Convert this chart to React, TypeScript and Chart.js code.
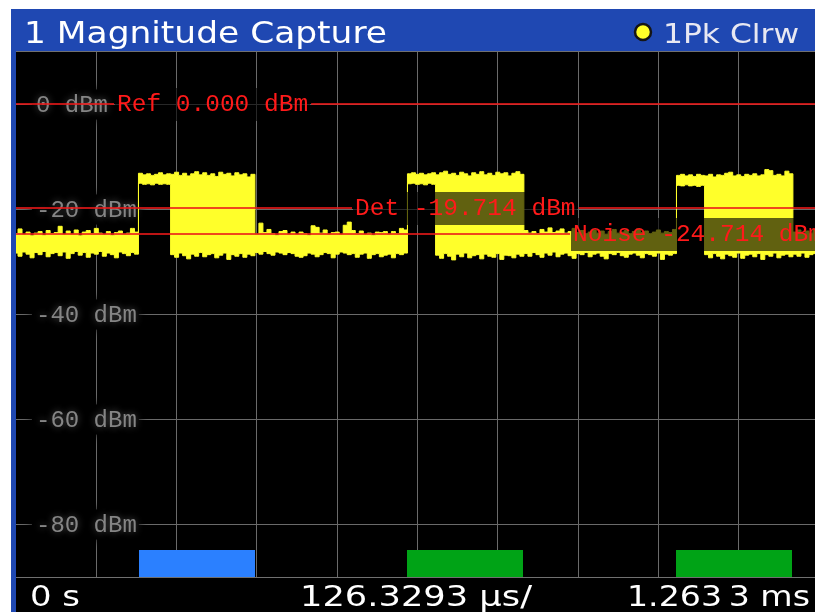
import React, { useEffect, useRef } from "react";
import { Chart, registerables } from "chart.js";

Chart.register(...registerables);

// ---------------- data ----------------
const TITLE = "1 Magnitude Capture";
const TRACE_NAME = "1Pk Clrw";
const X_START_LABEL = "0 s";
const X_DIV_LABEL = "126.3293 µs/";
const X_STOP_LABEL = "1.263\u20093 ms";

const X_MIN_US = 0;
const X_MAX_US = 1263.293;
const X_GRID_US = [126.329, 252.659, 378.988, 505.317, 631.647, 757.976, 884.305, 1010.634, 1136.964];

const Y_MIN_DBM = -90;
const Y_MAX_DBM = 10;
const Y_GRID_DBM = [0, -20, -40, -60, -80];
const Y_TICK_LABELS = ["0 dBm", "-20 dBm", "-40 dBm", "-60 dBm", "-80 dBm"];

const REF_LEVEL_DBM = 0;
const DET_THRESHOLD_DBM = -19.714;
const NOISE_THRESHOLD_DBM = -24.714;

const BURST_START_US = [193.5, 615.1, 1038.3];
const BURST_STOP_US = [376.0, 797.6, 1220.8];
const SELECTED_BURST = 0;

// peak (max) and min envelope of the trace, one value per sample
const SAMPLE_STEP_US = 6.3165;
const TRACE_MAX_DBM = [
  // noise
  -24.6, -23.7, -24.8, -24.3, -25.0, -24.5, -24.2, -24.9, -24.0, -24.6, -24.4, -23.2, -24.8, -24.1, -24.7, -23.9,
  -25.0, -24.3, -24.0, -24.6, -23.6, -24.5, -24.8, -24.2, -24.9, -24.4, -24.1, -24.7, -24.5, -23.6, -24.3,
  // burst 1
  -13.1, -13.4, -13.2, -13.5, -13.3, -13.0, -13.4, -13.2,
  -13.3, -12.9, -13.5, -13.1, -13.6, -13.2, -12.8, -13.4, -13.0, -13.5, -13.2, -13.7, -12.9, -13.3, -13.1, -13.6,
  -13.0, -13.4, -13.2, -13.8, -13.3,
  // noise
  -24.7, -22.6, -24.4, -23.8, -24.6, -24.9, -24.2, -24.0, -24.7, -24.3, -24.8, -24.3, -24.6, -24.9, -23.1, -23.4,
  -24.5, -23.9, -24.7, -24.4, -24.3, -24.8, -23.0, -22.4, -24.0, -24.6, -24.1, -24.8, -24.5, -24.9, -24.3, -24.4,
  -24.2, -24.7, -24.2, -24.6, -23.6, -23.9,
  // burst 2
  -13.2, -13.0, -13.3, -13.1, -13.4, -13.2, -13.0,
  -13.4, -13.0, -12.7, -13.3, -13.1, -13.5, -12.9, -13.2, -13.6, -13.0, -13.3, -12.8, -13.4, -13.1, -13.5, -12.9,
  -13.2, -13.0, -13.6, -13.1, -12.8, -13.3,
  // noise
  -24.0, -24.5, -24.2, -24.6, -23.8, -24.3, -23.5, -24.4, -24.1, -23.7, -24.5, -24.2, -23.6, -24.4, -24.0, -24.6,
  -24.3, -23.9, -24.5, -24.1, -24.7, -24.2, -23.8, -24.5, -24.3, -24.0, -24.6, -24.2, -23.7, -24.4, -24.1, -24.6,
  -24.3, -23.9, -24.5, -24.2, -24.4, -23.8,
  // burst 3
  -13.5, -13.3, -13.6, -13.4, -13.7, -13.3, -13.5,
  -13.6, -13.3, -13.8, -13.4, -13.5, -13.1, -12.9, -13.6, -13.4, -13.7, -13.3, -13.5, -13.2, -13.6, -13.4, -12.4,
  -12.6, -13.5, -13.3, -13.6, -12.7, -13.2,
  // noise
  -24.3, -23.9, -24.6, -24.1, -24.5, -23.8, -24.4,
];
const TRACE_MIN_DBM = [
  // noise
  -28.3, -28.9, -28.1, -28.5, -29.2, -28.2, -28.6, -28.0, -29.0, -28.4, -28.2, -28.8, -28.1, -29.3, -28.4, -28.0,
  -28.7, -28.2, -29.1, -28.3, -28.5, -28.0, -28.9, -28.3, -28.6, -29.2, -28.1, -28.4, -28.8, -28.2, -28.5,
  // burst 1
  -15.0, -15.2, -15.1, -15.3, -15.0, -15.2, -15.1, -15.2,
  -28.6, -29.1, -28.3, -28.8, -29.4, -28.5, -28.9, -28.2, -29.0, -28.6, -28.4, -29.2, -28.7, -28.3, -29.5, -28.6,
  -28.9, -28.4, -29.1, -28.5, -28.8,
  // noise
  -28.2, -28.5, -28.0, -28.4, -28.7, -28.1, -28.3, -28.6, -28.2, -28.4, -28.9, -29.1, -28.8, -28.3, -28.5, -29.0,
  -28.6, -28.2, -28.4, -29.2, -28.5, -28.1, -28.3, -28.6, -28.4, -29.1, -28.5, -28.3, -29.3, -28.6, -28.4, -29.0,
  -28.7, -28.5, -29.2, -28.4, -28.6, -28.3,
  // burst 2
  -15.1, -15.0, -15.2, -15.1, -15.3, -15.0, -15.2,
  -28.7, -29.3, -28.4, -28.9, -29.6, -28.5, -29.0, -28.3, -29.2, -28.8, -28.6, -29.4, -28.5, -28.9, -29.1, -28.4,
  -29.5, -28.7, -28.8, -29.2, -28.5, -28.9,
  // noise
  -28.4, -28.9, -28.2, -28.6, -29.1, -28.3, -28.7, -28.1, -29.0, -28.5, -28.3, -28.8, -29.3, -28.4, -28.6, -28.2,
  -29.0, -28.5, -28.3, -28.9, -29.4, -28.4, -28.6, -28.2, -28.8, -29.1, -28.5, -28.3, -28.7, -29.2, -28.4, -28.6,
  -28.9, -28.3, -29.5, -28.5, -28.7, -28.4,
  // burst 3
  -15.4, -15.5, -15.3, -15.5, -15.4, -15.6, -15.4,
  -28.6, -29.2, -28.4, -28.9, -29.4, -28.5, -28.8, -29.1, -28.3, -29.3, -28.7, -28.5, -29.0, -28.4, -29.5, -28.6,
  -28.9, -28.3, -29.2, -28.7, -28.5, -29.0,
  // noise
  -28.5, -28.9, -28.3, -29.1, -28.6, -28.4, -28.8,
];

// ---------------- styles ----------------
const PANEL_BLUE = "#1f48b2";
const GRID_COLOR = "#6a6a6a";
const TRACE_COLOR = "#ffff2a";
const MARKER_LINE = "rgba(235,25,25,0.8)";
const MARKER_TEXT = "#ff1a1a";
const SELECTED_BAR = "#2b80ff";
const OTHER_BAR = "#00a316";

function fitText(ctx: CanvasRenderingContext2D, text: string, x: number, baseline: number, width: number, font: string, color: string) {
  ctx.save();
  ctx.font = font;
  ctx.textAlign = "left";
  ctx.textBaseline = "alphabetic";
  const w = ctx.measureText(text).width;
  ctx.translate(x, baseline);
  ctx.scale(width / w, 1);
  ctx.fillStyle = color;
  ctx.fillText(text, 0, 0);
  ctx.restore();
}

function drawMarker(chart: any, value: number, text: string, offset: number) {
  const { ctx, chartArea, scales } = chart;
  const py = Math.round(scales.y.getPixelForValue(value));
  ctx.save();
  ctx.font = '24.5px "Liberation Mono", monospace';
  const w = ctx.measureText(text).width;
  const x0 = chartArea.left + offset;
  ctx.fillStyle = "rgba(0,0,0,0.62)";
  ctx.fillRect(x0 - 2, py - 16, w + 4, 33);
  ctx.strokeStyle = MARKER_LINE;
  ctx.lineWidth = 2;
  ctx.beginPath();
  ctx.moveTo(chartArea.left, py);
  ctx.lineTo(x0 - 3, py);
  ctx.moveTo(x0 + w + 3, py);
  ctx.lineTo(chartArea.right, py);
  ctx.stroke();
  ctx.fillStyle = MARKER_TEXT;
  ctx.textBaseline = "middle";
  ctx.fillText(text, x0, py + 1);
  ctx.restore();
}

const panelPlugin = {
  id: "panel",
  beforeDraw(chart: any) {
    const { ctx, width, height } = chart;
    ctx.save();
    ctx.fillStyle = "#ffffff";
    ctx.fillRect(0, 0, width, height);
    ctx.fillStyle = PANEL_BLUE;
    ctx.fillRect(11, 9, width - 11, height - 9);
    ctx.fillStyle = "#000000";
    ctx.fillRect(16, 51, width - 16, height - 51);
    ctx.fillStyle = "#707070";
    ctx.fillRect(16, 51, width - 16, 1);
    ctx.restore();
  },
  beforeDatasetsDraw(chart: any) {
    const { ctx, chartArea, scales } = chart;
    ctx.save();
    ctx.font = '24px "Liberation Mono", monospace';
    ctx.textBaseline = "middle";
    Y_GRID_DBM.forEach((v, i) => {
      const py = scales.y.getPixelForValue(v);
      const px = chartArea.left + 20;
      const label = Y_TICK_LABELS[i];
      const w = ctx.measureText(label).width;
      ctx.shadowColor = "#000";
      ctx.shadowBlur = 10;
      ctx.fillStyle = "#000";
      ctx.fillRect(px - 4, py - 15, w + 6, 30);
      ctx.shadowColor = "rgba(150,150,150,0.55)";
      ctx.shadowBlur = 7;
      ctx.fillStyle = "#858585";
      ctx.fillText(label, px, py + 1);
    });
    ctx.restore();
  },
  afterDatasetsDraw(chart: any) {
    const { ctx, chartArea, scales, width } = chart;
    drawMarker(chart, REF_LEVEL_DBM, `Ref ${REF_LEVEL_DBM.toFixed(3)} dBm`, 101);
    drawMarker(chart, DET_THRESHOLD_DBM, `Det ${DET_THRESHOLD_DBM.toFixed(3)} dBm`, 339);
    drawMarker(chart, NOISE_THRESHOLD_DBM, `Noise ${NOISE_THRESHOLD_DBM.toFixed(3)} dBm`, 557);
    ctx.save();
    BURST_START_US.forEach((s, i) => {
      const x0 = Math.round(scales.x.getPixelForValue(s));
      const x1 = Math.round(scales.x.getPixelForValue(BURST_STOP_US[i]));
      ctx.fillStyle = i === SELECTED_BURST ? SELECTED_BAR : OTHER_BAR;
      ctx.fillRect(x0, chartArea.bottom - 27, x1 - x0, 27);
    });
    ctx.fillStyle = "#707070";
    ctx.fillRect(chartArea.left, chartArea.bottom, width - chartArea.left, 1);
    ctx.restore();
  },
  afterDraw(chart: any) {
    const { ctx } = chart;
    fitText(ctx, TITLE, 24, 43, 363, '31px "DejaVu Sans", sans-serif', "#ffffff");
    ctx.save();
    ctx.beginPath();
    ctx.arc(643, 32, 8, 0, Math.PI * 2);
    ctx.fillStyle = TRACE_COLOR;
    ctx.fill();
    ctx.lineWidth = 2.5;
    ctx.strokeStyle = "#151515";
    ctx.stroke();
    ctx.restore();
    fitText(ctx, TRACE_NAME, 663, 43, 136, '27px "DejaVu Sans", sans-serif', "#e8e8f2");
    fitText(ctx, X_START_LABEL, 30, 606, 50, '28px "DejaVu Sans", sans-serif', "#ffffff");
    fitText(ctx, X_DIV_LABEL, 300, 606, 232, '28px "DejaVu Sans", sans-serif', "#ffffff");
    fitText(ctx, X_STOP_LABEL, 627, 606, 183, '28px "DejaVu Sans", sans-serif', "#ffffff");
  },
};

export default function App() {
  const ref = useRef<HTMLCanvasElement>(null);
  useEffect(() => {
    const canvas = ref.current;
    if (!canvas) return;
    const times = TRACE_MAX_DBM.map((_, i) => i * SAMPLE_STEP_US);
    const chart = new Chart(canvas, {
      type: "line",
      data: {
        datasets: [
          {
            label: "max",
            data: times.map((t, i) => ({ x: t, y: TRACE_MAX_DBM[i] })),
            borderColor: TRACE_COLOR,
            backgroundColor: TRACE_COLOR,
            borderWidth: 1,
            pointRadius: 0,
            stepped: "middle",
            fill: "+1",
          },
          {
            label: "min",
            data: times.map((t, i) => ({ x: t, y: TRACE_MIN_DBM[i] })),
            borderColor: TRACE_COLOR,
            backgroundColor: TRACE_COLOR,
            borderWidth: 1,
            pointRadius: 0,
            stepped: "middle",
            fill: false,
          },
        ],
      },
      options: {
        responsive: false,
        animation: false,
        events: [],
        layout: { padding: { left: 16, top: 52, right: 11, bottom: 35 } },
        plugins: { legend: { display: false }, tooltip: { enabled: false } },
        scales: {
          x: {
            type: "linear",
            min: X_MIN_US,
            max: X_MAX_US,
            afterBuildTicks: (s: any) => {
              s.ticks = X_GRID_US.map((v) => ({ value: v }));
            },
            ticks: { display: false },
            grid: { color: GRID_COLOR, lineWidth: 1, drawTicks: false },
            border: { display: false },
          },
          y: {
            type: "linear",
            min: Y_MIN_DBM,
            max: Y_MAX_DBM,
            afterBuildTicks: (s: any) => {
              s.ticks = Y_GRID_DBM.map((v) => ({ value: v }));
            },
            ticks: { display: false },
            grid: { color: GRID_COLOR, lineWidth: 1, drawTicks: false },
            border: { display: false },
          },
        },
      },
      plugins: [panelPlugin],
    } as any);
    return () => chart.destroy();
  }, []);
  return (
    <div style={{ position: "fixed", left: 0, top: 0, width: 815, height: 612, overflow: "hidden", background: "#fff" }}>
      <canvas ref={ref} width={830} height={612} style={{ display: "block", width: 830, height: 612 }} />
    </div>
  );
}
